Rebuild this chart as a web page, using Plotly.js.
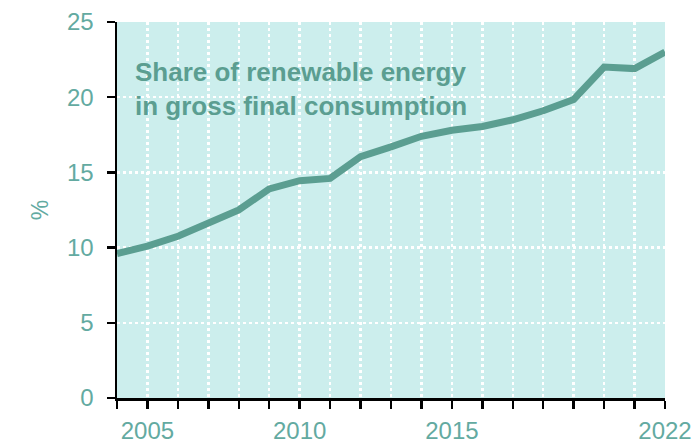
<!DOCTYPE html>
<html>
<head>
<meta charset="utf-8">
<script src="https://cdn.plot.ly/plotly-3.0.1.min.js"></script>
<style>html,body{margin:0;padding:0;background:#fff;}#chart{width:699px;height:443px;}</style>
</head>
<body>
<div id="chart"></div>
<script>
const years = [2004,2005,2006,2007,2008,2009,2010,2011,2012,2013,2014,2015,2016,2017,2018,2019,2020,2021,2022];
const renewableShare = [9.6,10.1,10.75,11.65,12.5,13.9,14.45,14.6,16.05,16.7,17.4,17.8,18.05,18.5,19.1,19.85,22.0,21.9,23.0];
const tickLabelYears = [2005,2010,2015,2022];
const yTicks = [0,5,10,15,20,25];
const annotationText = "Share of renewable energy<br>in gross final consumption";

const teal = "#5b9e91";
const labelTeal = "#63aaa1";

const trace = {
  x: years, y: renewableShare, type: "scatter", mode: "lines",
  line: {color: teal, width: 7}, hoverinfo: "skip"
};

const layout = {
  width: 699, height: 443,
  margin: {l: 117, r: 34, t: 22, b: 45},
  paper_bgcolor: "#ffffff",
  plot_bgcolor: "#cceeed",
  showlegend: false,
  font: {family: "Liberation Sans, Arial, sans-serif", color: labelTeal, size: 24},
  xaxis: {
    range: [2004, 2022], fixedrange: true,
    tickmode: "array", tickvals: years,
    ticktext: years.map(y => tickLabelYears.includes(y) ? String(y) : ""),
    ticks: "outside", ticklen: 8, tickwidth: 2.5, tickcolor: "#000",
    showline: true, linecolor: "#000", linewidth: 2.5,
    showgrid: true, gridcolor: "#ffffff", gridwidth: 2.5, griddash: "dot",
    zeroline: false, ticklabelstandoff: 2,
    tickfont: {size: 24, color: labelTeal}
  },
  yaxis: {
    range: [0, 25], fixedrange: true,
    tickmode: "array", tickvals: yTicks,
    ticks: "outside", ticklen: 8, tickwidth: 2.5, tickcolor: "#000",
    showline: true, linecolor: "#000", linewidth: 2.5,
    showgrid: true, gridcolor: "#ffffff", gridwidth: 2.5, griddash: "dot",
    zeroline: false, ticklabelstandoff: 8,
    tickfont: {size: 24, color: labelTeal},
    title: {text: "%", font: {size: 23, color: labelTeal}, standoff: 12}
  },
  annotations: [{
    xref: "paper", yref: "paper", x: 0.03, y: 0.912,
    xanchor: "left", yanchor: "top", align: "left",
    text: "<b>" + annotationText.split("<br>").join("</b><br><b>") + "</b>",
    showarrow: false,
    font: {size: 26, color: teal, family: "Liberation Sans, Arial, sans-serif"}
  }]
};

Plotly.newPlot("chart", [trace], layout, {displayModeBar: false, staticPlot: true});
</script>
</body>
</html>
